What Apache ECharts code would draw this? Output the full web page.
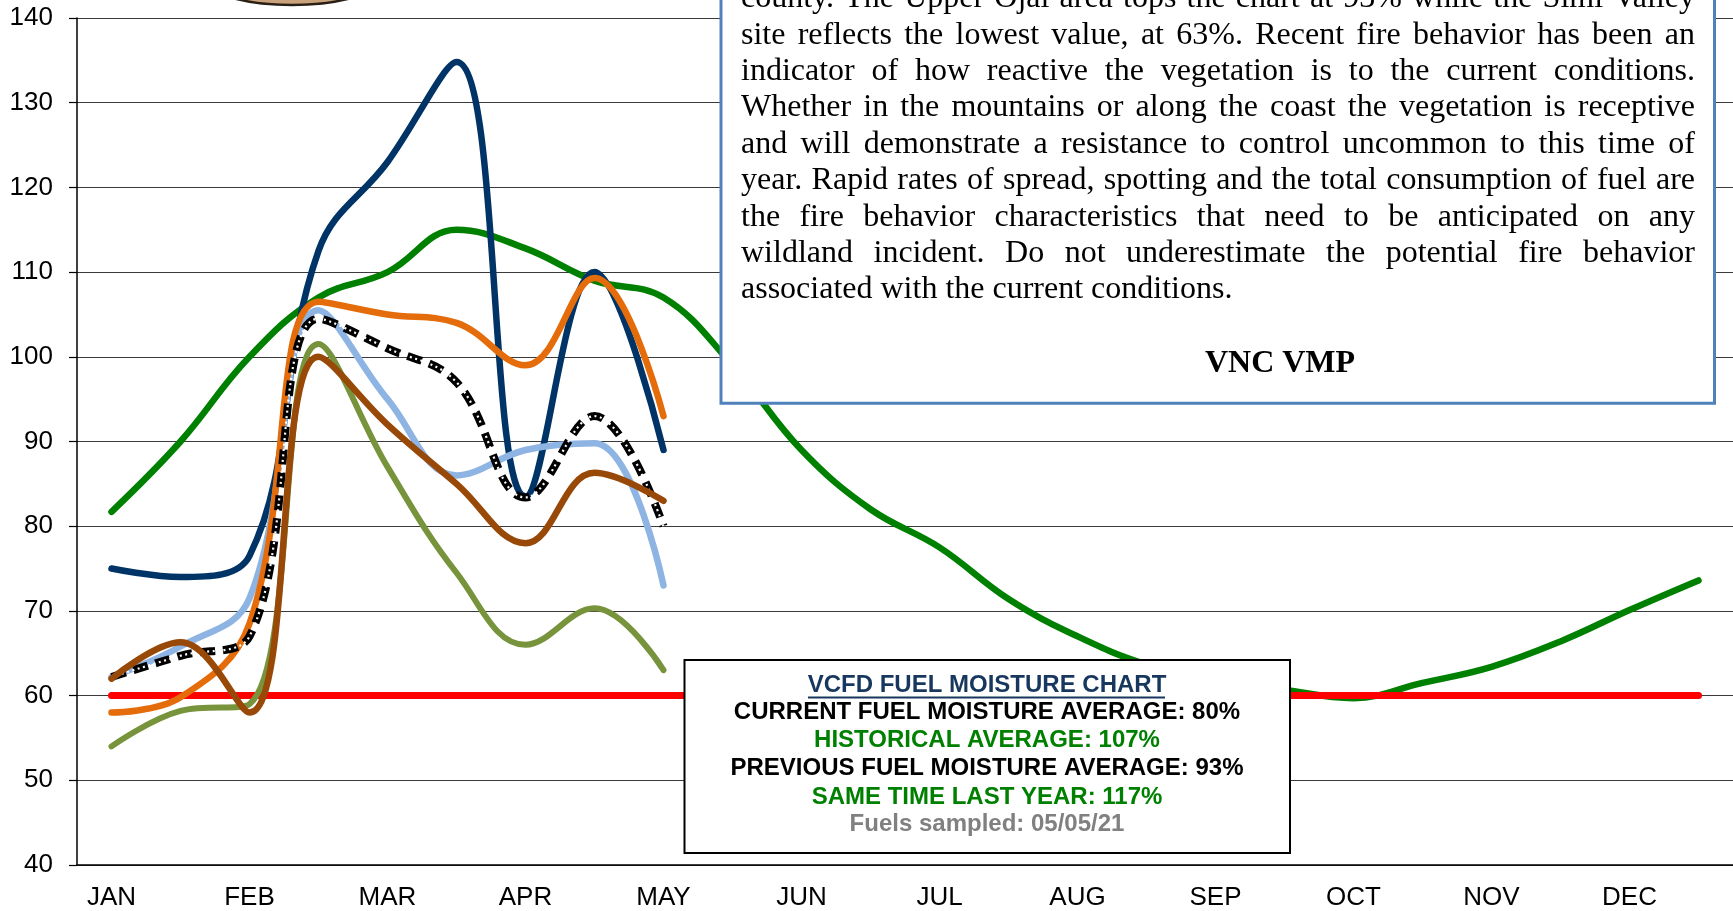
<!DOCTYPE html>
<html>
<head>
<meta charset="utf-8">
<script src="https://cdn.jsdelivr.net/npm/echarts@6/dist/echarts.min.js"></script>
<style>
  html, body { margin: 0; padding: 0; background: #fff; }
  #chart { width: 1733px; height: 911px; }
</style>
</head>
<body>
<div id="chart"></div>
<script>
// 燃料含水率图：每月两个采样位（1 日 / 15 日），共 24 个类目
const months = ['JAN', 'FEB', 'MAR', 'APR', 'MAY', 'JUN', 'JUL', 'AUG', 'SEP', 'OCT', 'NOV', 'DEC'];
const categories = months.flatMap(m => ['1 ' + m, '15 ' + m]);
const yTicks = [40, 50, 60, 70, 80, 90, 100, 110, 120, 130, 140];

// 历史平均（全年 24 个点）
const historical = [81.7, 90, 100, 107, 110, 115, 112.8, 109, 107, 99, 89, 82,
                    77.5, 71.4, 67, 63.7, 62, 60.7, 59.7, 61.5, 63.4, 66.4, 70.1, 73.6];
// 临界线 60%
const critical = [60, 60, 60, 60, 60, 60, 60, 60, 60, 60, 60, 60,
                  60, 60, 60, 60, 60, 60, 60, 60, 60, 60, 60, 60];
// 今年各采样点（1 月 1 日 ~ 5 月初，9 个点）
const siteNavy   = [75, 74, 76.5, 112.5, 123, 134.8, 83.5, 110, 89];
const siteBlue   = [62.2, 65.8, 71.5, 105.5, 95, 86, 89, 89.8, 73];
const siteOrange = [58, 59.8, 68.5, 106.5, 105, 104, 99, 109.3, 93];
const siteOlive  = [54, 58.2, 59, 101.5, 87, 74.5, 66, 70.3, 63];
const siteBrown  = [62, 66.3, 58, 100, 92, 85, 78, 86.3, 83];
const average    = [62.2, 64.7, 67, 104.5, 101, 97, 83.4, 93, 80];

// 文本框内容
const noteLines = [
  'county. The Upper Ojai area tops the chart at 93% while the Simi Valley',
  'site reflects the lowest value, at 63%. Recent fire behavior has been an',
  'indicator of how reactive the vegetation is to the current conditions.',
  'Whether in the mountains or along the coast the vegetation is receptive',
  'and will demonstrate a resistance to control uncommon to this time of',
  'year. Rapid rates of spread, spotting and the total consumption of fuel are',
  'the fire behavior characteristics that need to be anticipated on any',
  'wildland incident. Do not underestimate the potential fire behavior',
  'associated with the current conditions.'
];
const noteSign = 'VNC VMP';
const summaryLines = [
  { text: 'VCFD FUEL MOISTURE CHART', color: '#17375e' },
  { text: 'CURRENT FUEL MOISTURE AVERAGE: 80%', color: '#000000' },
  { text: 'HISTORICAL AVERAGE: 107%', color: '#008000' },
  { text: 'PREVIOUS FUEL MOISTURE AVERAGE: 93%', color: '#000000' },
  { text: 'SAME TIME LAST YEAR: 117%', color: '#008000' },
  { text: 'Fuels sampled: 05/05/21', color: '#808080' }
];

const chart = echarts.init(document.getElementById('chart'));

function lineSeries(name, data, color, width, extra) {
  return Object.assign({
    name, type: 'line', data, smooth: 0.4, symbol: 'none', silent: true,
    lineStyle: { color, width, cap: 'round', join: 'round' }
  }, extra || {});
}

// 两端对齐的说明文字：逐词测量后摆放（y 为文字中线）
const measureCtx = document.createElement('canvas').getContext('2d');
const noteFont = 32;
measureCtx.font = noteFont + 'px "Liberation Serif"';
const noteLeft = 741, noteWidth = 954, noteBase0 = 8.7, noteStep = 36.4;
const noteEls = [];
noteLines.forEach((line, i) => {
  const words = line.split(' ');
  const widths = words.map(w => measureCtx.measureText(w).width);
  const total = widths.reduce((a, b) => a + b, 0);
  const last = i === noteLines.length - 1;
  const gap = last ? measureCtx.measureText(' ').width : (noteWidth - total) / (words.length - 1);
  let x = noteLeft;
  const y = noteBase0 + i * noteStep - 0.31 * noteFont;
  words.forEach((w, j) => {
    noteEls.push({
      type: 'text', x, y, z: 101,
      style: { text: w, fill: '#000', fontSize: noteFont, fontFamily: 'Liberation Serif',
               align: 'left', verticalAlign: 'middle' }
    });
    x += widths[j] + gap;
  });
});

const summaryBase = [692.5, 719.5, 747.5, 775.5, 804.5, 831.5];
const summaryEls = summaryLines.map((l, i) => ({
  type: 'text', x: 987, y: summaryBase[i] - 0.31 * 24, z: 101,
  style: { text: l.text, fill: l.color, fontSize: 24, fontWeight: 'bold',
           fontFamily: 'Liberation Sans', align: 'center', verticalAlign: 'middle' }
}));

chart.setOption({
  animation: false,
  backgroundColor: '#ffffff',
  grid: { left: 77, top: 18, width: 1658, height: 848.5 },
  xAxis: {
    type: 'category',
    data: categories,
    boundaryGap: true,
    axisLine: { lineStyle: { color: '#000', width: 1.5 } },
    axisTick: { interval: 0, length: 9, lineStyle: { color: '#000', width: 1.2 } },
    axisLabel: {
      interval: 1, margin: 20, color: '#000', fontSize: 26, fontFamily: 'Liberation Sans',
      formatter: v => v.split(' ')[1]
    },
    splitLine: { show: false }
  },
  yAxis: {
    type: 'value',
    min: yTicks[0], max: yTicks[yTicks.length - 1], interval: 10,
    axisLine: { show: true, lineStyle: { color: '#000', width: 1.5 } },
    axisTick: { show: true, length: 8, lineStyle: { color: '#000', width: 1.2 } },
    axisLabel: { margin: 24, color: '#000', fontSize: 26, fontFamily: 'Liberation Sans' },
    splitLine: { lineStyle: { color: '#3a3a3a', width: 1.2 } }
  },
  series: [
    lineSeries('Historical', historical, '#008000', 6.5),
    lineSeries('Critical', critical, '#ff0000', 7, { smooth: false }),
    lineSeries('Site 1', siteNavy, '#003366', 6.5),
    lineSeries('Site 2', siteBlue, '#8eb4e3', 6.5),
    lineSeries('Site 3', siteOrange, '#e46c0a', 6.5),
    lineSeries('Site 4', siteOlive, '#77933c', 6),
    lineSeries('Average', average, '#000000', 8, { lineStyle: { color: '#000', width: 8, type: [15, 8], cap: 'butt' } }),
    lineSeries('Average dots', average, '#ffffff', 2.2, { lineStyle: { color: '#fff', width: 2.2, type: [2, 3.5], cap: 'butt' } }),
    lineSeries('Site 5', siteBrown, '#984807', 6.5)
  ],
  graphic: [
    // 左上角 logo 残边
    { type: 'ellipse', shape: { cx: 292, cy: -30, rx: 99, ry: 35 }, z: 100,
      style: { fill: '#c9a27c', stroke: '#2a1f14', lineWidth: 2.5 } },
    // 说明文本框
    { type: 'rect', shape: { x: 721, y: -10, width: 993.5, height: 413.3 }, z: 100,
      style: { fill: '#fff', stroke: '#4f81bd', lineWidth: 3 } },
    ...noteEls,
    { type: 'text', x: 1280, y: 363.5, z: 101,
      style: { text: noteSign, fill: '#000', fontSize: 32, fontWeight: 'bold',
               fontFamily: 'Liberation Serif', align: 'center', verticalAlign: 'middle' } },
    // 汇总框
    { type: 'rect', shape: { x: 684.5, y: 660, width: 605.5, height: 193 }, z: 100,
      style: { fill: '#fff', stroke: '#000', lineWidth: 2 } },
    ...summaryEls,
    { type: 'line', shape: { x1: 808, y1: 697.5, x2: 1165, y2: 697.5 }, z: 101,
      style: { stroke: '#17375e', lineWidth: 2 } }
  ]
});
</script>
</body>
</html>
